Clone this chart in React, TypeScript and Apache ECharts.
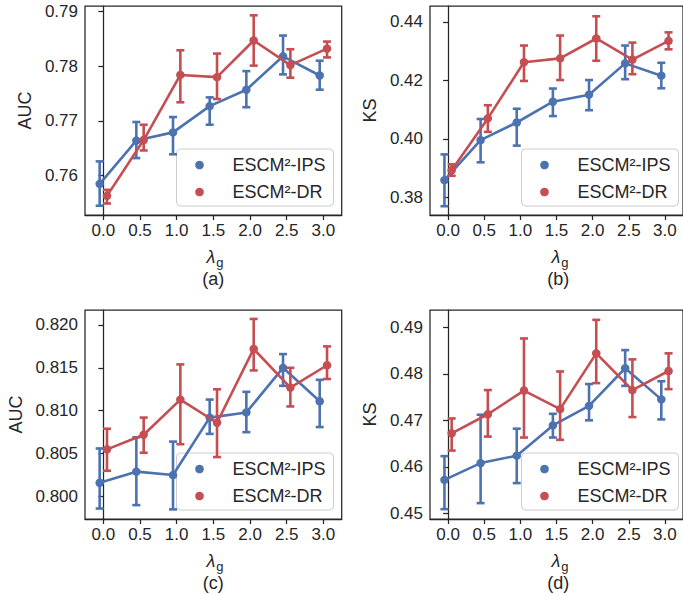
import React, { useEffect, useRef } from "react";
import * as echarts from "echarts";

const X_VALUES = [0, 0.5, 1, 1.5, 2, 2.5, 3];
const X_TICKS = [0, 0.5, 1, 1.5, 2, 2.5, 3];
const DODGE = 0.05;
const SERIES_NAMES = ["ESCM²-IPS", "ESCM²-DR"];

// (a) AUC
const aIpsMean = [0.7585, 0.7664, 0.7679, 0.7727, 0.7757, 0.7818, 0.7783];
const aIpsLow = [0.7545, 0.7632, 0.7639, 0.7693, 0.7725, 0.7785, 0.7757];
const aIpsHigh = [0.7626, 0.7698, 0.7707, 0.7743, 0.7791, 0.7856, 0.781];
const aDrMean = [0.7563, 0.7665, 0.7784, 0.778, 0.7847, 0.7802, 0.7832];
const aDrLow = [0.7549, 0.7646, 0.7734, 0.774, 0.7801, 0.7779, 0.7816];
const aDrHigh = [0.7574, 0.7693, 0.7829, 0.7823, 0.7893, 0.7831, 0.7845];
const aTicks = [0.76, 0.77, 0.78, 0.79];

// (b) KS
const bIpsMean = [0.3859, 0.3996, 0.4056, 0.4127, 0.4151, 0.4258, 0.4216];
const bIpsLow = [0.377, 0.392, 0.3977, 0.4078, 0.4098, 0.4204, 0.4173];
const bIpsHigh = [0.3947, 0.4068, 0.4103, 0.4172, 0.4201, 0.4319, 0.426];
const bDrMean = [0.3893, 0.407, 0.4262, 0.4275, 0.4343, 0.4271, 0.4335];
const bDrLow = [0.3874, 0.4024, 0.4198, 0.4201, 0.4267, 0.4221, 0.4306];
const bDrHigh = [0.3913, 0.4115, 0.4319, 0.4353, 0.4419, 0.4329, 0.4364];
const bTicks = [0.38, 0.4, 0.42, 0.44];

// (c) AUC
const cIpsMean = [0.8016, 0.8029, 0.8025, 0.8092, 0.8098, 0.815, 0.8111];
const cIpsLow = [0.7986, 0.799, 0.7985, 0.8073, 0.8075, 0.8129, 0.8081];
const cIpsHigh = [0.8056, 0.8069, 0.8064, 0.8113, 0.8122, 0.8166, 0.8136];
const cDrMean = [0.8055, 0.8072, 0.8113, 0.8086, 0.8172, 0.8127, 0.8153];
const cDrLow = [0.803, 0.8051, 0.8061, 0.8046, 0.8147, 0.8105, 0.8137];
const cDrHigh = [0.8079, 0.8092, 0.8154, 0.8125, 0.8207, 0.815, 0.8175];
const cTicks = [0.8, 0.805, 0.81, 0.815, 0.82];

// (d) KS
const dIpsMean = [0.4572, 0.4608, 0.4624, 0.4689, 0.4731, 0.4812, 0.4745];
const dIpsLow = [0.4509, 0.4522, 0.4565, 0.4663, 0.47, 0.4774, 0.4702];
const dIpsHigh = [0.4623, 0.4712, 0.4682, 0.4714, 0.4778, 0.4851, 0.4784];
const dDrMean = [0.4672, 0.4713, 0.4764, 0.4724, 0.4844, 0.4765, 0.4806];
const dDrLow = [0.4635, 0.4665, 0.4663, 0.4658, 0.478, 0.4707, 0.4767];
const dDrHigh = [0.4704, 0.4765, 0.4876, 0.4805, 0.4916, 0.4831, 0.4844];
const dTicks = [0.45, 0.46, 0.47, 0.48, 0.49];

const BLUE = "#4C72B0";
const RED = "#C44E52";
const INK = "#262626";
const FONT = "Liberation Sans";

const panels = [
  {
    tag: "(a)", ylabel: "AUC", left: 85, top: 6, yMin: 0.7528, yMax: 0.791, ticks: aTicks, dec: 2,
    ips: [aIpsMean, aIpsLow, aIpsHigh], dr: [aDrMean, aDrLow, aDrHigh], ylabelX: 25,
  },
  {
    tag: "(b)", ylabel: "KS", left: 430, top: 6, yMin: 0.374, yMax: 0.4454, ticks: bTicks, dec: 2,
    ips: [bIpsMean, bIpsLow, bIpsHigh], dr: [bDrMean, bDrLow, bDrHigh], ylabelX: 370,
  },
  {
    tag: "(c)", ylabel: "AUC", left: 85, top: 310, yMin: 0.79738, yMax: 0.82174, ticks: cTicks, dec: 3,
    ips: [cIpsMean, cIpsLow, cIpsHigh], dr: [cDrMean, cDrLow, cDrHigh], ylabelX: 16,
  },
  {
    tag: "(d)", ylabel: "KS", left: 430, top: 310, yMin: 0.44878, yMax: 0.49372, ticks: dTicks, dec: 2,
    ips: [dIpsMean, dIpsLow, dIpsHigh], dr: [dDrMean, dDrLow, dDrHigh], ylabelX: 370,
  },
];

const GRID_W = 256.7;
const GRID_H = 209;

function buildOption() {
  const grid: any[] = [];
  const xAxis: any[] = [];
  const yAxis: any[] = [];
  const series: any[] = [];
  const graphic: any[] = [];

  const errRender = (color: string) => (params: any, api: any) => {
    const x = api.value(0);
    const lo = api.coord([x, api.value(1)]);
    const hi = api.coord([x, api.value(2)]);
    const st = { stroke: color, lineWidth: 2.6 };
    const cap = 4;
    return {
      type: "group",
      children: [
        { type: "line", shape: { x1: lo[0], y1: lo[1], x2: hi[0], y2: hi[1] }, style: st },
        { type: "line", shape: { x1: hi[0] - cap, y1: hi[1], x2: hi[0] + cap, y2: hi[1] }, style: st },
        { type: "line", shape: { x1: lo[0] - cap, y1: lo[1], x2: lo[0] + cap, y2: lo[1] }, style: st },
      ],
    };
  };

  panels.forEach((p, i) => {
    grid.push({
      left: p.left, top: p.top, width: GRID_W, height: GRID_H,
      show: true, borderColor: INK, borderWidth: 1.25, backgroundColor: "transparent",
    });
    xAxis.push({
      type: "value", gridIndex: i, min: -0.25, max: 3.25,
      axisLine: { show: true, lineStyle: { color: INK, width: 1.25 } },
      axisTick: { show: true, length: 5, lineStyle: { color: INK, width: 1.25 }, customValues: X_TICKS },
      axisLabel: {
        customValues: X_TICKS, formatter: (v: number) => v.toFixed(1),
        color: INK, fontFamily: FONT, fontSize: 17, margin: 7,
      },
      splitLine: { show: false },
    });
    yAxis.push({
      type: "value", gridIndex: i, min: p.yMin, max: p.yMax,
      axisLine: { show: true, lineStyle: { color: INK, width: 1.25 } },
      axisTick: { show: true, length: 5, lineStyle: { color: INK, width: 1.25 }, customValues: p.ticks },
      axisLabel: {
        customValues: p.ticks, formatter: (v: number) => v.toFixed(p.dec),
        color: INK, fontFamily: FONT, fontSize: 17, margin: 7,
      },
      splitLine: { show: false },
    });

    const groups = [
      { name: SERIES_NAMES[0], color: BLUE, d: p.ips, off: -DODGE, z: 2 },
      { name: SERIES_NAMES[1], color: RED, d: p.dr, off: DODGE, z: 3 },
    ];
    groups.forEach((g) => {
      series.push({
        type: "custom", xAxisIndex: i, yAxisIndex: i, z: g.z,
        renderItem: errRender(g.color),
        encode: { x: 0, y: [1, 2] },
        data: X_VALUES.map((x, k) => [x + g.off, g.d[1][k], g.d[2][k]]),
        silent: true,
      });
      series.push({
        type: "line", name: g.name, xAxisIndex: i, yAxisIndex: i, z: g.z,
        data: X_VALUES.map((x, k) => [x + g.off, g.d[0][k]]),
        symbol: "circle", symbolSize: 8.5, showSymbol: true,
        lineStyle: { color: g.color, width: 2.6 },
        itemStyle: { color: g.color },
        emphasis: { disabled: true },
      });
    });

    // legend box (drawn as graphic for exact matplotlib-like placement)
    const bx = p.left + 91.5;
    const by = p.top + 143;
    const legendChildren: any[] = [
      {
        type: "rect", shape: { x: bx, y: by, width: 157, height: 57, r: 4 },
        style: { fill: "rgba(255,255,255,0.8)", stroke: "#cccccc", lineWidth: 1 },
      },
    ];
    [BLUE, RED].forEach((c, k) => {
      const cy = p.top + 159 + k * 27;
      legendChildren.push({
        type: "circle", shape: { cx: p.left + 114.5, cy, r: 4.3 }, style: { fill: c },
      });
      legendChildren.push({
        type: "text", x: p.left + 147.5, y: cy,
        style: { text: SERIES_NAMES[k], fill: INK, font: `18px ${FONT}`, textAlign: "left", textVerticalAlign: "middle" },
      });
    });
    graphic.push({ type: "group", z: 100, children: legendChildren });

    const cx = p.left + GRID_W / 2;
    const bottom = p.top + GRID_H;
    graphic.push({
      type: "text", x: cx + 2, y: bottom + 42,
      style: { text: "λ", fill: INK, font: `italic 18px ${FONT}`, textAlign: "right", textVerticalAlign: "middle" },
    });
    graphic.push({
      type: "text", x: cx + 3, y: bottom + 47,
      style: { text: "g", fill: INK, font: `13px ${FONT}`, textAlign: "left", textVerticalAlign: "middle" },
    });
    graphic.push({
      type: "text", x: cx, y: bottom + 64,
      style: { text: p.tag, fill: INK, font: `18px ${FONT}`, textAlign: "center", textVerticalAlign: "middle" },
    });
    graphic.push({
      type: "text", x: p.ylabelX, y: p.top + GRID_H / 2, rotation: Math.PI / 2,
      style: { text: p.ylabel, fill: INK, font: `18px ${FONT}`, textAlign: "center", textVerticalAlign: "middle" },
    });
  });

  return { animation: false, grid, xAxis, yAxis, series, graphic, backgroundColor: "#ffffff" };
}

export default function App() {
  const ref = useRef<HTMLDivElement>(null);
  useEffect(() => {
    document.body.style.margin = "0";
    if (!ref.current) return;
    const chart = echarts.init(ref.current, null, { renderer: "svg" });
    chart.setOption(buildOption() as any);
    return () => chart.dispose();
  }, []);
  return <div ref={ref} style={{ width: 683, height: 594, overflow: "hidden" }} />;
}
